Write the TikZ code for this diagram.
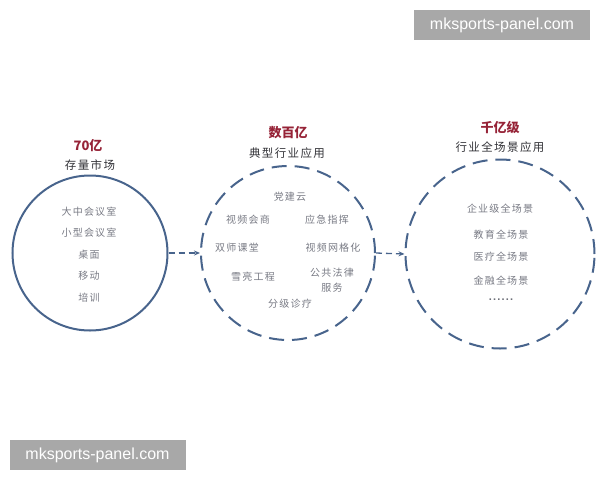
\documentclass[tikz,border=0pt]{standalone}
\usepackage{fontspec}
\setmainfont{Liberation Sans}
\newfontfamily\cjk{Noto Sans CJK SC}
\newfontfamily\cjkwide[LetterSpace=12]{Noto Sans CJK SC}
\usetikzlibrary{arrows.meta}
\definecolor{ringblue}{RGB}{72,100,140}
\definecolor{titlered}{RGB}{150,35,55}
\definecolor{titledark}{RGB}{50,50,55}
\definecolor{itemgray}{RGB}{120,122,132}
\definecolor{wmgray}{RGB}{168,168,168}
\tikzset{
  ring/.style={draw=ringblue, line width=2pt, circle, inner sep=0pt},
  dashring/.style={ring, dash pattern=on 15pt off 8pt},
  item/.style={font=\cjkwide\fontsize{10}{12}\selectfont, text=itemgray, align=center, inner sep=0pt},
  amount/.style={font=\cjk\bfseries\fontsize{13}{15}\selectfont, text=titlered, inner sep=0pt},
  caption/.style={font=\cjkwide\fontsize{11.5}{14}\selectfont, text=titledark, inner sep=0pt},
  flow/.style={draw=ringblue, line width=1.3pt, dash pattern=on 6pt off 4pt, -{Stealth[length=6pt,width=5pt]}},
  wmbox/.style={fill=wmgray, text=white, font=\fontsize{16}{18}\selectfont, inner sep=0pt, minimum width=176pt, minimum height=30pt}
}
\begin{document}
\begin{tikzpicture}[x=1pt,y=-1pt]
\useasboundingbox (0,0) rectangle (600,480);
% circles
\node[ring, minimum size=155pt] (c1) at (90,253) {};
\node[dashring, minimum size=174pt] (c2) at (288,253) {};
\node[dashring, minimum size=189pt] (c3) at (500,254) {};
% titles
\node[amount] (t1a) at (88,146) {70亿};
\node[caption] (t1b) at (90,165) {存量市场};
\node[amount] (t2a) at (288,133) {数百亿};
\node[caption] (t2b) at (287,153) {典型行业应用};
\node[amount] (t3a) at (500,128) {千亿级};
\node[caption] (t3b) at (500,147) {行业全场景应用};
% circle 1 items
\node[item] (a1) at (89,212) {大中会议室};
\node[item] (a2) at (89,233) {小型会议室};
\node[item] (a3) at (89,255) {桌面};
\node[item] (a4) at (89,276) {移动};
\node[item] (a5) at (89,298) {培训};
% circle 2 items
\node[item] (b1) at (290,197) {党建云};
\node[item] (b2) at (248,220) {视频会商};
\node[item] (b3) at (327,220) {应急指挥};
\node[item] (b4) at (237,248) {双师课堂};
\node[item] (b5) at (333,248) {视频网格化};
\node[item] (b6) at (253,277) {雪亮工程};
\node[item] (b7) at (332,280) {公共法律\\[3pt]服务};
\node[item] (b8) at (290,304) {分级诊疗};
% circle 3 items
\node[item] (d1) at (500,209) {企业级全场景};
\node[item] (d2) at (501,235) {教育全场景};
\node[item] (d3) at (501,257) {医疗全场景};
\node[item] (d4) at (501,281) {金融全场景};
\node[item, font=\bfseries\fontsize{11}{12}\selectfont, text=itemgray!90!black] (d5) at (501,300) {.\kern1.2pt.\kern1.2pt.\kern1.2pt.\kern1.2pt.\kern1.2pt.};
% connectors
\draw[flow] (c1.east) -- (c2.west);
\draw[flow] (c2.east) -- (c3.west);
% watermarks
\node[wmbox] (w1) at (502,25) {mksports-panel.com};
\node[wmbox] (w2) at (97.5,455) {mksports-panel.com};
\end{tikzpicture}
\end{document}
